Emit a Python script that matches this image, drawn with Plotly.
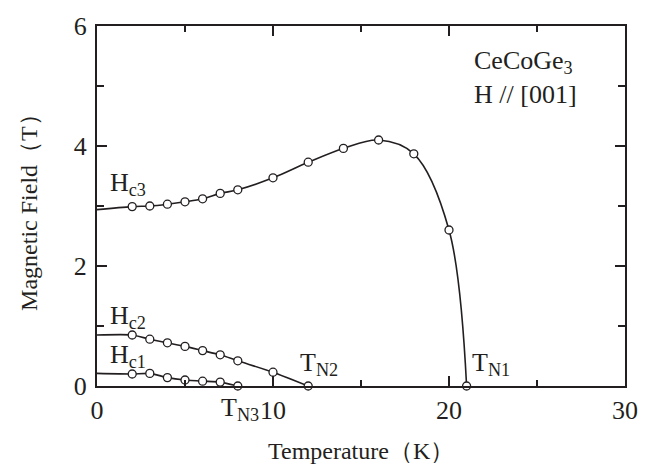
import plotly.graph_objects as go

# --- data ---
hc3_T = [2, 3, 4, 5, 6, 7, 8, 10, 12, 14, 16, 18, 20, 21]
hc3_H = [2.99, 3.00, 3.03, 3.07, 3.12, 3.21, 3.27, 3.47, 3.73, 3.96, 4.10, 3.87, 2.60, 0.0]
hc3_start = (0, 2.94)

hc2_T = [2, 3, 4, 5, 6, 7, 8, 10, 12]
hc2_H = [0.85, 0.78, 0.72, 0.66, 0.59, 0.52, 0.42, 0.23, 0.0]
hc2_start = (0, 0.85)

hc1_T = [2, 3, 4, 5, 6, 7, 8]
hc1_H = [0.20, 0.21, 0.14, 0.10, 0.08, 0.065, 0.0]
hc1_start = (0, 0.21)

x_ticks = [0, 10, 20, 30]
y_ticks = [0, 2, 4, 6]

INK = "#231f20"
FONT = "Times New Roman, Liberation Serif, DejaVu Serif, serif"

fig = go.Figure()

def add_branch(start, T, H, smooth):
    fig.add_trace(go.Scatter(
        x=[start[0]] + T, y=[start[1]] + H, mode="lines",
        line=dict(color=INK, width=1.6, shape="spline", smoothing=smooth),
        hoverinfo="skip", showlegend=False))
    fig.add_trace(go.Scatter(
        x=T, y=H, mode="markers",
        marker=dict(symbol="circle", size=8, color="white",
                    line=dict(color=INK, width=1.3)),
        showlegend=False, cliponaxis=False))

add_branch(hc3_start, hc3_T, hc3_H, 1.0)
add_branch(hc2_start, hc2_T, hc2_H, 0.6)
add_branch(hc1_start, hc1_T, hc1_H, 0.6)

ann_font = dict(family=FONT, size=26, color=INK)
labels = [
    ("H<sub>c3</sub>", 0.6, 3.2),
    ("H<sub>c2</sub>", 0.6, 0.98),
    ("H<sub>c1</sub>", 0.6, 0.34),
    ("T<sub>N2</sub>", 11.4, 0.2),
    ("T<sub>N1</sub>", 21.2, 0.2),
]
for txt, x, y in labels:
    fig.add_annotation(x=x, y=y, text=txt, showarrow=False, xanchor="left",
                       yanchor="bottom", font=ann_font, yshift=-8)
fig.add_annotation(x=8.1, yref="paper", y=-0.063, text="T<sub>N3</sub>", showarrow=False,
                   xanchor="center", yanchor="middle", font=ann_font)

fig.add_annotation(xref="paper", yref="paper", x=0.71, y=0.9, text="CeCoGe<sub>3</sub>",
                   showarrow=False, xanchor="left", yanchor="middle",
                   font=dict(family=FONT, size=26, color=INK))
fig.add_annotation(xref="paper", yref="paper", x=0.71, y=0.81, text="H // [001]",
                   showarrow=False, xanchor="left", yanchor="middle",
                   font=dict(family=FONT, size=26, color=INK))

fig.add_annotation(xref="paper", yref="paper", x=0.5, y=-0.18, text="Temperature（K）",
                   showarrow=False, xanchor="center", yanchor="middle",
                   font=dict(family=FONT, size=24, color=INK))
fig.add_annotation(xref="paper", yref="paper", x=-0.129, y=0.5, text="Magnetic Field（T）",
                   showarrow=False, xanchor="center", yanchor="middle", textangle=-90,
                   font=dict(family=FONT, size=24, color=INK))

axis_common = dict(showline=True, linewidth=2, linecolor=INK, mirror="ticks",
                   ticks="inside", ticklen=10, tickwidth=1.5, tickcolor=INK,
                   showgrid=False, zeroline=False,
                   tickfont=dict(family=FONT, size=26, color=INK))
fig.update_xaxes(range=[0, 30], tickvals=x_ticks,
                 minor=dict(dtick=5, ticks="inside", ticklen=6, tickwidth=1.5, tickcolor=INK),
                 **axis_common)
fig.update_yaxes(range=[0, 6], tickvals=y_ticks, ticklabelstandoff=3,
                 minor=dict(dtick=1, ticks="inside", ticklen=7, tickwidth=1.5, tickcolor=INK),
                 **axis_common)

fig.update_layout(width=650, height=472, margin=dict(l=97, r=17, t=19, b=86),
                  plot_bgcolor="white", paper_bgcolor="white",
                  font=dict(family=FONT, color=INK))

fig.write_html("out.html", config={"displayModeBar": False},
               post_script="document.body.style.margin='0';document.body.style.overflow='hidden';")
